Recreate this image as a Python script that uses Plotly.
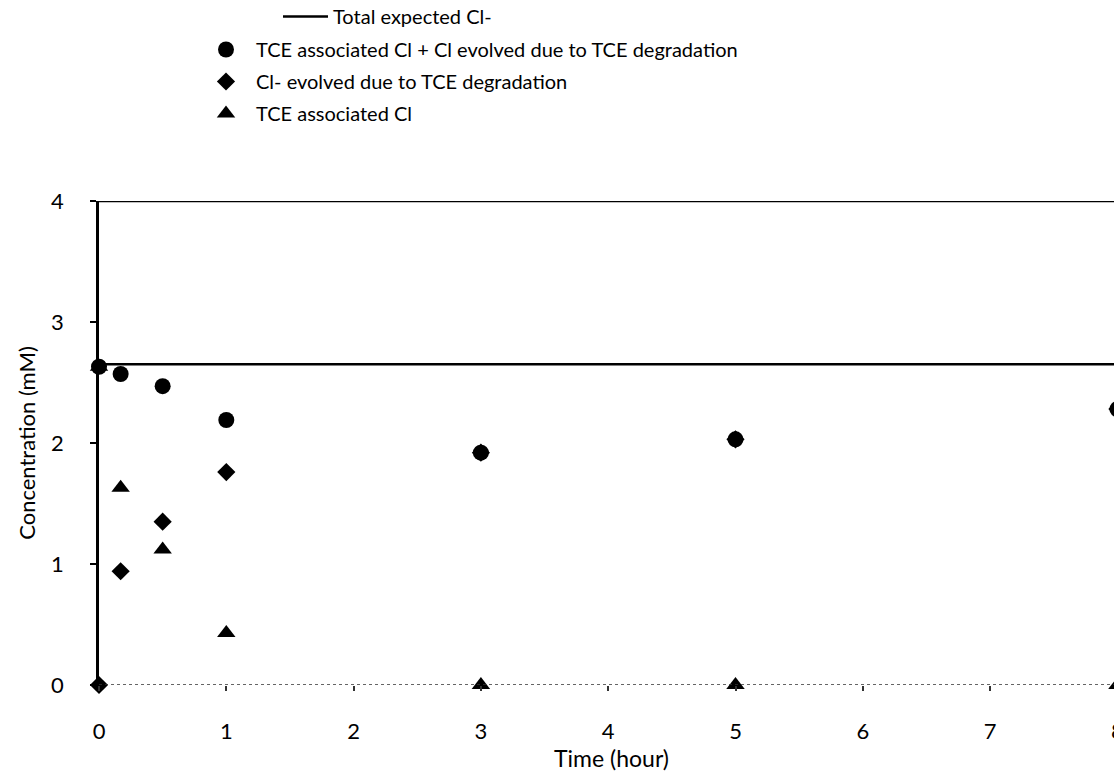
import plotly.graph_objects as go

# Sampling times (hours) and chloride concentrations (mM)
time_h = [0, 0.17, 0.5, 1, 3, 5, 8]
cl_sum = [2.63, 2.57, 2.47, 2.19, 1.92, 2.03, 2.28]
cl_evolved = [0.0, 0.94, 1.35, 1.76, 1.92, 2.03, 2.28]
tce_assoc_cl = [2.63, 1.63, 1.12, 0.43, 0.0, 0.0, 0.0]

expected_total = 2.65
expected_span = [0, 8.1]

x_ticks = [0, 1, 2, 3, 4, 5, 6, 7, 8]
y_ticks = [0, 1, 2, 3, 4]

FONT = "Lato, 'Open Sans', sans-serif"
# the figure runs slightly past the right edge of the page, so the
# last column (t = 8 h) is cut off by the window border
W, H = 1124, 776
M_L, M_R, M_T, M_B = 99, 0, 201, 91
PX_PER_HOUR = 127.3
x_max = (W - M_L - M_R) / PX_PER_HOUR

fig = go.Figure()

fig.add_trace(go.Scatter(
    x=expected_span, y=[expected_total] * len(expected_span),
    mode="lines", line=dict(color="black", width=2.5),
    name="Total expected Cl-", legend="legend", legendrank=1,
))
fig.add_trace(go.Scatter(
    x=time_h, y=tce_assoc_cl, mode="markers", cliponaxis=False,
    marker=dict(symbol="triangle-up", size=16, color="black"),
    name="TCE associated Cl", legend="legend2", legendrank=4,
    legendgroup="c",
))
fig.add_trace(go.Scatter(
    x=time_h, y=cl_evolved, mode="markers", cliponaxis=False,
    marker=dict(symbol="diamond", size=14, color="black"),
    name="Cl- evolved due to TCE degradation", legend="legend2", legendrank=3,
    legendgroup="b",
))
fig.add_trace(go.Scatter(
    x=time_h, y=cl_sum, mode="markers", cliponaxis=False,
    marker=dict(symbol="circle", size=16, color="black"),
    name="TCE associated Cl + Cl evolved due to TCE degradation",
    legend="legend2", legendrank=2, legendgroup="a",
))

plot_w = W - M_L - M_R
plot_h = H - M_T - M_B


def px_x(px):
    return (px - M_L) / plot_w


def px_y(py):
    return (H - M_B - py) / plot_h


# top border at y = 4
fig.add_shape(type="line", xref="paper", yref="y", x0=0, x1=1,
              y0=y_ticks[-1], y1=y_ticks[-1], line=dict(color="black", width=2.5))
# thin dotted baseline at y = 0
fig.add_shape(type="line", xref="paper", yref="y", x0=0, x1=1,
              y0=y_ticks[0], y1=y_ticks[0], line=dict(color="#333", width=1.5, dash="dot"))

fig.update_layout(
    width=W, height=H,
    margin=dict(l=M_L, r=M_R, t=M_T, b=M_B, autoexpand=False),
    paper_bgcolor="white", plot_bgcolor="white",
    font=dict(family=FONT, size=21, color="black"),
    showlegend=True,
    legend=dict(x=px_x(278), y=px_y(-3), xanchor="left", yanchor="top",
                itemwidth=45, bgcolor="rgba(0,0,0,0)", font=dict(size=20)),
    legend2=dict(x=px_x(196), y=px_y(30), xanchor="left", yanchor="top",
                 itemwidth=50, bgcolor="rgba(0,0,0,0)", font=dict(size=20),
                 traceorder="grouped", tracegroupgap=3),
    xaxis=dict(
        range=[0, x_max], tickvals=x_ticks, ticktext=[str(v) for v in x_ticks],
        showgrid=False, zeroline=False, showline=False,
        ticks="outside", ticklen=5, tickcolor="#333", tickwidth=1.5,
        ticklabelstandoff=22, tickfont=dict(size=22),
        title=dict(text="Time (hour)", standoff=2, font=dict(size=23)),
        automargin=False,
    ),
    yaxis=dict(
        range=[0, 4], tickvals=y_ticks, ticktext=[str(v) for v in y_ticks],
        showgrid=False, zeroline=False,
        showline=True, linecolor="black", linewidth=2.5,
        ticks="outside", ticklen=6, tickcolor="black", tickwidth=2,
        ticklabelstandoff=22, tickfont=dict(size=22),
        title=dict(text="Concentration (mM)", standoff=10, font=dict(size=22)),
        automargin=False,
    ),
)

# keep the page free of scrollbars; the overflow is simply cropped
fig.write_html(
    "out.html",
    post_script=(
        "document.documentElement.style.overflow='hidden';"
        "document.body.style.overflow='hidden';"
    ),
)
